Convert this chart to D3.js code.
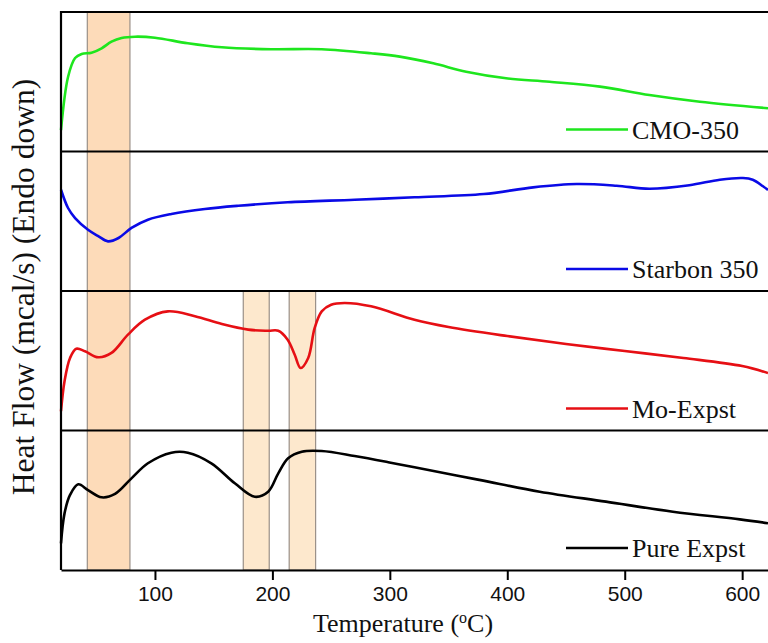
<!DOCTYPE html>
<html>
<head>
<meta charset="utf-8">
<script src="https://cdn.jsdelivr.net/npm/d3@7"></script>
<style>
	body { margin: 0; background: #fff; }
	svg { display: block; }
	.tick text { font-family: "Liberation Sans", Arial, sans-serif; }
	.serif { font-family: "Liberation Serif", "Times New Roman", serif; }
</style>
</head>
<body>
<svg id="dsc" width="768" height="643"></svg>
<script>
const Width = 768;
const Height = 643;

// series, top panel first
const seriesNames = ["CMO-350", "Starbon 350", "Mo-Expst", "Pure Expst"];
const seriesColors = ["#1ee61e", "#0a0ae6", "#e60f14", "#000000"];

// heat flow, relative units within each panel (0 = panel floor, 100 = panel ceiling)
const cmoTemp = [20, 26, 32, 37.6, 46, 54.6, 63, 71.6, 83, 100, 128, 157, 199, 242, 284, 308.5, 337, 365, 399, 436, 479, 521, 564, 622];
const cmoFlow = [15.4, 53.4, 67, 69.9, 70.8, 74, 78.7, 81.4, 82.3, 81.6, 77.6, 74.7, 73.3, 73.3, 70.4, 68, 63.2, 57.2, 52.5, 50, 46.5, 40.5, 35.7, 31];

const starbonTemp = [20, 26, 32, 43, 52, 60, 69, 80, 94, 114, 142.5, 171, 213, 270, 321, 380, 422, 459, 493, 521, 555, 581, 600.7, 609, 617.7, 622];
const starbonFlow = [72.6, 59.5, 52.3, 43.9, 39.2, 35.6, 38, 45.2, 51.1, 55.2, 58.8, 61.1, 63.6, 65.4, 67.2, 69.5, 74.3, 76.7, 75.5, 73.3, 75.8, 79.8, 81, 79.8, 75.1, 72.4];

const moTemp = [20, 23, 27.7, 33, 40.4, 51.7, 63, 77, 91.5, 111, 134, 157, 179.4, 196.4, 205, 213, 219, 224, 230.5, 236, 242, 250, 261.7, 284, 321, 350, 400, 450, 500, 550, 600, 622];
const moFlow = [13.8, 35.3, 52, 58.6, 56.8, 52.5, 55.6, 68.7, 79.4, 85.4, 81.9, 76.3, 72.3, 71.5, 71.5, 65.1, 54.3, 44.8, 52, 73.5, 85.4, 90.2, 91.4, 89, 79.4, 74.2, 67.7, 62, 57, 52, 46.2, 41.2];

const pureTemp = [20, 23, 27.7, 34.7, 43, 54.6, 66, 80, 94, 114, 128, 148, 168, 185, 196.4, 205, 213.4, 225, 242, 270, 298.6, 321, 375, 427.6, 484, 541, 598, 622];
const pureFlow = [19.1, 40.6, 53.8, 61.4, 57.3, 52.1, 54.5, 65.7, 76.5, 84.1, 84.1, 76.5, 62.2, 52.5, 56.1, 69.3, 80.1, 84.8, 85.3, 81.7, 77.3, 73.6, 64.8, 56.1, 49, 41.8, 36.3, 33.5];

// shaded temperature windows (degC) and the first panel each one starts in
const bandRanges = [[42.4, 78.7], [175.2, 197.3], [214.3, 236.8]];
const bandFromPanel = [0, 2, 2];
const bandFills = ["#fddbb9", "#fde8cd", "#fde8cd"];

const xTicks = [100, 200, 300, 400, 500, 600];

const series = seriesNames.map((name, i) => {
	const t = [cmoTemp, starbonTemp, moTemp, pureTemp][i];
	const f = [cmoFlow, starbonFlow, moFlow, pureFlow][i];
	return { name, color: seriesColors[i], points: t.map((d, j) => [d, f[j]]) };
});

const margin = { left: 61, top: 12, bottom: 570 };

const chart = d3.select("#dsc");

const x = d3.scaleLinear().domain([20, 622]).range([margin.left, Width]);
// one band per stacked panel
const panel = d3.scaleBand().domain(seriesNames).range([margin.top, margin.bottom]);
const flow = d3.scaleLinear().domain([0, 100]);

// shaded windows go first so curves and frame lines sit on top of them
chart.append("g").selectAll("rect").data(bandRanges).enter().append("rect")
	.attr("x", d => x(d[0]))
	.attr("width", d => x(d[1]) - x(d[0]))
	.attr("y", (d, i) => panel(seriesNames[bandFromPanel[i]]))
	.attr("height", (d, i) => margin.bottom - panel(seriesNames[bandFromPanel[i]]))
	.attr("fill", (d, i) => bandFills[i])
	.attr("stroke", "#9a9088")
	.attr("stroke-width", 1.2);

const panels = chart.selectAll("g.panel").data(series).enter().append("g").attr("class", "panel");

panels.append("path")
	.attr("fill", "none")
	.attr("stroke", d => d.color)
	.attr("stroke-width", 2.6)
	.attr("stroke-linejoin", "round")
	.attr("d", d => {
		const y = flow.copy().range([panel(d.name) + panel.bandwidth(), panel(d.name)]);
		return d3.line().x(p => x(p[0])).y(p => y(p[1])).curve(d3.curveCatmullRom.alpha(0.5))(d.points);
	});

// legend sits in the lower right corner of each panel
const legend = panels.append("g")
	.attr("transform", d => `translate(566,${panel(d.name) + panel.bandwidth() - 22})`);
legend.append("line").attr("x1", 0).attr("x2", 62).attr("stroke", d => d.color).attr("stroke-width", 2.6);
legend.append("text").attr("class", "serif").attr("x", 66).attr("y", 9)
	.attr("font-size", 26).attr("fill", "#111").text(d => d.name);

// panel separators and top border
chart.append("g").selectAll("line").data(seriesNames).enter().append("line")
	.attr("x1", margin.left).attr("x2", Width)
	.attr("y1", d => panel(d)).attr("y2", d => panel(d))
	.attr("stroke", "#000").attr("stroke-width", 2);

chart.append("line")
	.attr("x1", margin.left).attr("x2", margin.left)
	.attr("y1", margin.top - 1).attr("y2", margin.bottom)
	.attr("stroke", "#000").attr("stroke-width", 2.2);

const xaxis = chart.append("g")
	.attr("transform", `translate(0,${margin.bottom})`)
	.call(d3.axisBottom(x).tickValues(xTicks).tickSize(10).tickSizeOuter(0).tickPadding(6));
xaxis.select(".domain").attr("stroke-width", 2.2);
xaxis.selectAll(".tick line").attr("stroke-width", 2);
xaxis.selectAll(".tick text").attr("font-size", 21).attr("fill", "#111");

chart.append("text").attr("class", "serif")
	.attr("x", 403).attr("y", 632)
	.attr("text-anchor", "middle").attr("font-size", 26).attr("fill", "#111")
	.html("Temperature (<tspan dy='-9' font-size='16'>o</tspan><tspan dy='9'>C)</tspan>");

chart.append("text").attr("class", "serif")
	.attr("transform", `translate(34,${(margin.top + margin.bottom) / 2 - 4}) rotate(-90)`)
	.attr("text-anchor", "middle").attr("font-size", 31.5).attr("fill", "#111")
	.text("Heat Flow (mcal/s) (Endo down)");
</script>
</body>
</html>
